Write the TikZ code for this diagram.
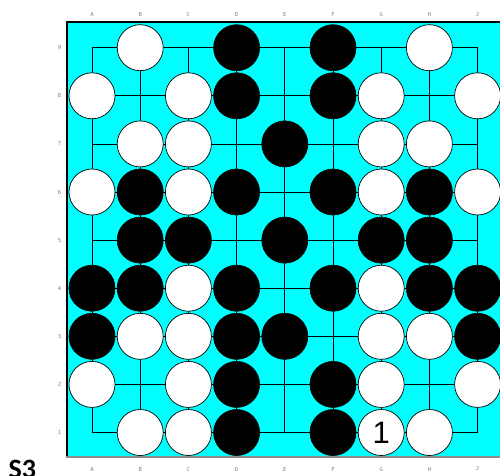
\documentclass[tikz,border=0pt]{standalone}
\usepackage{fontspec}
\newfontfamily\labfont{DejaVu Sans Mono}
\newfontfamily\numfont{Liberation Sans}
\newfontfamily\titfont{Carlito}
\definecolor{boardcyan}{RGB}{0,255,255}
\definecolor{labgray}{RGB}{128,128,128}
\definecolor{edgegray}{RGB}{140,140,140}
\begin{document}
\begin{tikzpicture}[x=1pt,y=-1pt,
  bstone/.style={circle,draw=black,fill=black,line width=0.7pt,minimum size=46pt,inner sep=0pt},
  wstone/.style={circle,draw=black,fill=white,line width=0.7pt,minimum size=46pt,inner sep=0pt},
  coordlab/.style={text=labgray,font=\labfont\fontsize{5.5}{6}\selectfont,inner sep=0pt},
  gridline/.style={line width=0.8pt,black}]
\useasboundingbox (0,0) rectangle (500,475);
\clip (0,0) rectangle (500,475);
\fill[boardcyan] (67,22) rectangle (500,456);
\draw[line width=2.2pt] (67,21.7) -- (500,21.7);
\draw[line width=2pt] (67,20.6) -- (67,456);
\draw[line width=2pt,edgegray] (66,456.8) -- (500,456.8);
% grid
\foreach \i in {0,...,8} {
  \draw[gridline] ({92+48.2*\i},47.7) -- ({92+48.2*\i},432.5);
  \draw[gridline] (92,{47.7+48.1*\i}) -- (477.6,{47.7+48.1*\i});
}
% labels
\foreach \l [count=\i from 0] in {A,B,C,D,E,F,G,H,J} {
  \node[coordlab] (top\l) at ({92+48.2*\i},14.5) {\l};
  \node[coordlab] (bot\l) at ({92+48.2*\i},469) {\l};
}
\foreach \r in {1,...,9} {
  \node[coordlab] (row\r) at (59.5,{47.7+48.1*(9-\r)}) {\r};
}
% stones
\def\st#1#2#3{\node[#3stone] (#1#2) at ({92+48.2*#1},{47.7+48.1*(9-#2)}) {};}
% columns: A=0 B=1 C=2 D=3 E=4 F=5 G=6 H=7 J=8
% row 9
\st{1}{9}{w}\st{3}{9}{b}\st{5}{9}{b}\st{7}{9}{w}
% row 8
\st{0}{8}{w}\st{2}{8}{w}\st{3}{8}{b}\st{5}{8}{b}\st{6}{8}{w}\st{8}{8}{w}
% row 7
\st{1}{7}{w}\st{2}{7}{w}\st{4}{7}{b}\st{6}{7}{w}\st{7}{7}{w}
% row 6
\st{0}{6}{w}\st{1}{6}{b}\st{2}{6}{w}\st{3}{6}{b}\st{5}{6}{b}\st{6}{6}{w}\st{7}{6}{b}\st{8}{6}{w}
% row 5
\st{1}{5}{b}\st{2}{5}{b}\st{4}{5}{b}\st{6}{5}{b}\st{7}{5}{b}
% row 4
\st{0}{4}{b}\st{1}{4}{b}\st{2}{4}{w}\st{3}{4}{b}\st{5}{4}{b}\st{6}{4}{w}\st{7}{4}{b}\st{8}{4}{b}
% row 3
\st{0}{3}{b}\st{1}{3}{w}\st{2}{3}{w}\st{3}{3}{b}\st{4}{3}{b}\st{6}{3}{w}\st{7}{3}{w}\st{8}{3}{b}
% row 2
\st{0}{2}{w}\st{2}{2}{w}\st{3}{2}{b}\st{5}{2}{b}\st{6}{2}{w}\st{8}{2}{w}
% row 1
\st{1}{1}{w}\st{2}{1}{w}\st{3}{1}{b}\st{5}{1}{b}\st{7}{1}{w}
\node[wstone,font=\numfont\fontsize{31}{31}\selectfont] (61) at ({92+48.2*6},{47.7+48.1*8}) {1};
% title
\node[anchor=base west,inner sep=0pt,font=\titfont\bfseries\fontsize{28}{28}\selectfont] (title) at (8.5,478.5) {S3};
\end{tikzpicture}
\end{document}
